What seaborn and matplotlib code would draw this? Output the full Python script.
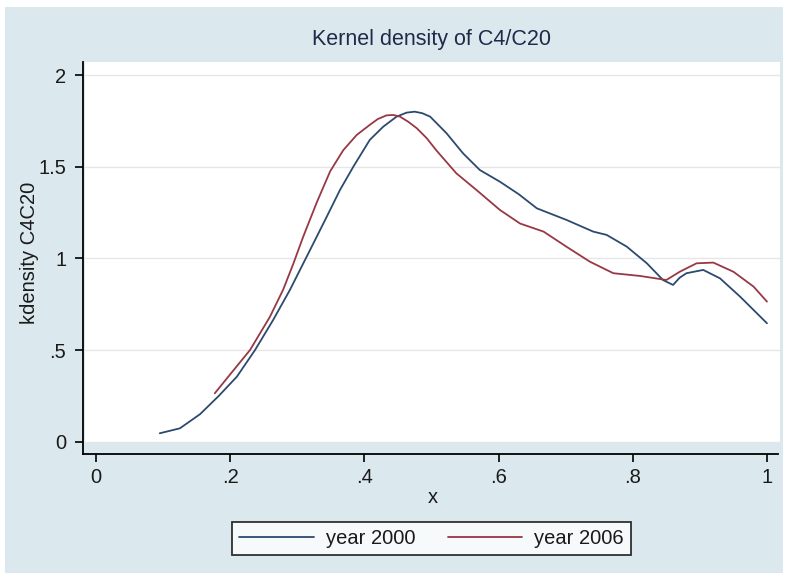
import matplotlib
matplotlib.use("Agg")
import matplotlib.pyplot as plt
from matplotlib.patches import Rectangle
import seaborn as sns
import pandas as pd

# ---- data ----
x_2000 = [0.095, 0.125, 0.155, 0.183, 0.21, 0.237, 0.264, 0.289, 0.304, 0.324, 0.344,
          0.3636, 0.3835, 0.408, 0.428, 0.448, 0.463, 0.475, 0.486, 0.498, 0.5225, 0.547,
          0.572, 0.602, 0.63, 0.657, 0.701, 0.741, 0.761, 0.791, 0.821, 0.845, 0.860,
          0.870, 0.880, 0.905, 0.930, 0.960, 1.0]
y_2000 = [0.046, 0.073, 0.15, 0.25, 0.355, 0.5, 0.664, 0.828, 0.937, 1.082, 1.228,
          1.373, 1.5, 1.646, 1.718, 1.773, 1.795, 1.80, 1.792, 1.773, 1.682, 1.573,
          1.482, 1.418, 1.35, 1.273, 1.21, 1.146, 1.128, 1.064, 0.973, 0.882, 0.855,
          0.895, 0.919, 0.937, 0.891, 0.791, 0.646]

x_2006 = [0.177, 0.205, 0.2295, 0.259, 0.279, 0.294, 0.309, 0.329, 0.349, 0.3685,
          0.3885, 0.408, 0.42, 0.433, 0.443, 0.453, 0.465, 0.478, 0.493, 0.507, 0.537,
          0.567, 0.602, 0.632, 0.667, 0.701, 0.736, 0.771, 0.811, 0.850, 0.870, 0.895,
          0.920, 0.950, 0.980, 1.0]
y_2006 = [0.264, 0.39, 0.5, 0.68, 0.83, 0.97, 1.12, 1.305, 1.475, 1.59,
          1.673, 1.728, 1.76, 1.78, 1.782, 1.773, 1.746, 1.71, 1.655, 1.59, 1.464,
          1.373, 1.264, 1.19, 1.146, 1.064, 0.982, 0.919, 0.904, 0.882, 0.927, 0.973,
          0.977, 0.927, 0.846, 0.764]

series_names = ["year 2000", "year 2006"]
x_ticks = [0, 0.2, 0.4, 0.6, 0.8, 1.0]
x_tick_labels = ["0", ".2", ".4", ".6", ".8", "1"]
y_ticks = [0, 0.5, 1.0, 1.5, 2.0]
y_tick_labels = ["0", ".5", "1", "1.5", "2"]

df = pd.concat([
    pd.DataFrame({"x": x_2000, "y": y_2000, "series": series_names[0]}),
    pd.DataFrame({"x": x_2006, "y": y_2006, "series": series_names[1]}),
], ignore_index=True)

# ---- style ----
sns.set_style("white")
plt.rcParams["font.family"] = ["Liberation Sans", "DejaVu Sans"]

BG = "#dbe9ef"
W, H = 788, 580
fig = plt.figure(figsize=(W / 100, H / 100), dpi=100)
fig.patch.set_facecolor("white")
fig.patches.append(Rectangle((5 / W, 7 / H), 778 / W, 566 / H, transform=fig.transFigure,
                             facecolor=BG, edgecolor="none", zorder=-10))

ax = fig.add_axes([85 / W, (H - 443) / H, 695 / W, 381 / H])
ax.set_facecolor("white")

palette = {"year 2000": "#2c4a6e", "year 2006": "#983845"}
sns.lineplot(data=df, x="x", y="y", hue="series", palette=palette, estimator=None,
             sort=True, linewidth=1.3, ax=ax, legend=False)
for ln in ax.get_lines():
    ln.set_solid_joinstyle("round")

ax.set_xlim(-0.0164, 1.0194)
ax.set_ylim(-0.007, 2.071)

for yv in y_ticks:
    ax.axhline(yv, color="#e6e6e6", lw=1.0, zorder=0)

ax.set_xticks(x_ticks)
ax.set_xticklabels(x_tick_labels)
ax.set_yticks(y_ticks)
ax.set_yticklabels(y_tick_labels, rotation=90, va="center")

for s in ["top", "right"]:
    ax.spines[s].set_visible(False)
ax.spines["bottom"].set_position(("outward", 8))
ax.spines["left"].set_position(("outward", 1.5))
ax.spines["left"].set_bounds(-0.067, 2.071)
for s in ["bottom", "left"]:
    ax.spines[s].set_color("black")
    ax.spines[s].set_linewidth(1.3)
ax.spines["bottom"].set_bounds(-0.0194, 1.0164)

ax.tick_params(axis="both", direction="out", length=6, width=1.2, color="black",
               labelsize=14.5, labelcolor="#1a1a1a", bottom=True, left=True)
ax.tick_params(axis="x", pad=4)
ax.tick_params(axis="y", pad=6)

ax.set_xlabel("x", fontsize=14.5, color="#1a1a1a", labelpad=1)
ax.set_ylabel("kdensity C4C20", fontsize=14.5, color="#1a1a1a")
ax.yaxis.set_label_coords((39 - 85) / 695, 0.5)

fig.text(432 / W, 1 - 40 / H, "Kernel density of C4/C20", ha="center", va="center",
         fontsize=15.5, color="#1f2b48")

handles = [plt.Line2D([], [], color=palette[n], lw=1.3) for n in series_names]
leg = fig.legend(handles, series_names, loc="center", bbox_to_anchor=(431.5 / W, 1 - 538.5 / H),
                 ncol=2, fontsize=14.5, frameon=True, fancybox=False, handlelength=3.7,
                 columnspacing=1.6, handletextpad=0.6, borderpad=0.35, borderaxespad=0)
leg.get_frame().set_edgecolor("black")
leg.get_frame().set_linewidth(1.3)
leg.get_frame().set_facecolor("white")
for t in leg.get_texts():
    t.set_color("#1a1a1a")

fig.savefig("out.png", dpi=100)
